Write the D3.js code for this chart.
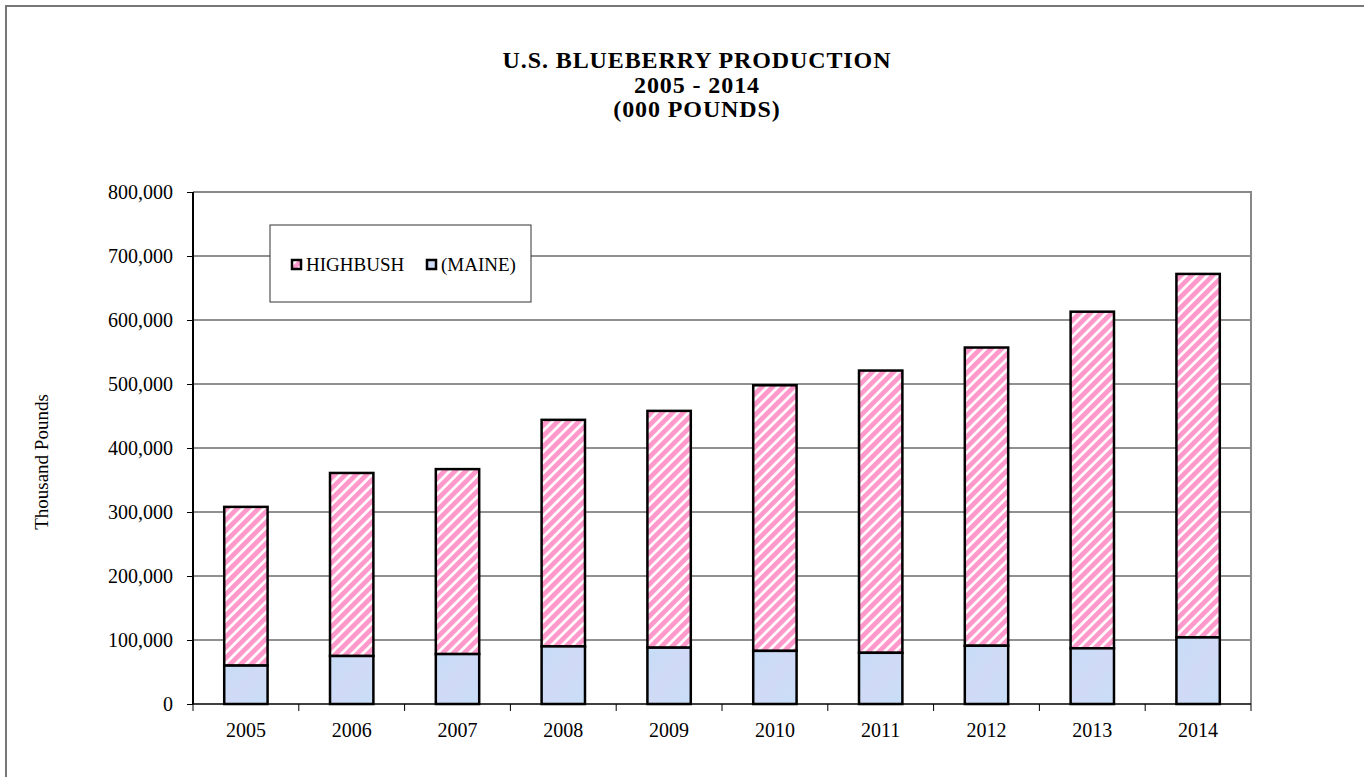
<!DOCTYPE html>
<html>
<head>
<style>
  body { margin: 0; background: #fff; }
  svg text { font-family: "Liberation Serif", "Times New Roman", serif; fill: #000; }
  .title { font-weight: bold; font-size: 24px; letter-spacing: 0.9px; text-anchor: middle; }
  .axis text { font-size: 20px; }
  .axis path, .axis line { stroke: #000; }
  .grid line { stroke: #222; stroke-width: 1; }
</style>
<script src="https://cdn.jsdelivr.net/npm/d3@7/dist/d3.min.js"></script>
</head>
<body>
<svg width="1364" height="777"></svg>
<script>
const years = ["2005", "2006", "2007", "2008", "2009", "2010", "2011", "2012", "2013", "2014"];
const maine = [60000, 75000, 78000, 90000, 88000, 83000, 80000, 91000, 87000, 104000];
const highbush = [248000, 286000, 289000, 354000, 370000, 415000, 441000, 466000, 526000, 568000];
const yTicks = [0, 100000, 200000, 300000, 400000, 500000, 600000, 700000, 800000];
const titleLines = ["U.S. BLUEBERRY PRODUCTION", "2005 - 2014", "(000 POUNDS)"];

const svg = d3.select("svg");
const pLeft = 193, pRight = 1251, pTop = 192, pBottom = 704;

// outer frame (only top and left edges visible)
svg.append("path")
  .attr("d", "M6,777 V6 H1364")
  .attr("fill", "none").attr("stroke", "#777").attr("stroke-width", 2);

const defs = svg.append("defs");
const stripes = defs.append("pattern")
  .attr("id", "stripes")
  .attr("patternUnits", "userSpaceOnUse")
  .attr("width", 7.5).attr("height", 10)
  .attr("patternTransform", "rotate(45)");
stripes.append("rect").attr("width", 7.5).attr("height", 10).attr("fill", "#fff");
stripes.append("rect").attr("width", 4.8).attr("height", 10).attr("fill", "#ff99cc");

const blue = defs.append("linearGradient")
  .attr("id", "blue").attr("x1", 0).attr("y1", 0).attr("x2", 1).attr("y2", 1);
blue.append("stop").attr("offset", "0%").attr("stop-color", "#c6ddf7");
blue.append("stop").attr("offset", "50%").attr("stop-color", "#d0daf6");
blue.append("stop").attr("offset", "100%").attr("stop-color", "#c8def7");

const x = d3.scaleBand().domain(years).range([pLeft, pRight]).paddingInner(0.59).paddingOuter(0.295);
const xb = d3.scaleBand().domain(years).range([pLeft, pRight]);
const y = d3.scaleLinear().domain([0, 800000]).range([pBottom, pTop]);

// gridlines
svg.append("g").attr("class", "grid")
  .selectAll("line").data(yTicks.slice(1, -1)).join("line")
  .attr("x1", pLeft).attr("x2", pRight)
  .attr("y1", d => y(d)).attr("y2", d => y(d));

// plot area top and right edges
svg.append("path")
  .attr("d", `M${pLeft},${pTop} H${pRight} V${pBottom}`)
  .attr("fill", "none").attr("stroke", "#888").attr("stroke-width", 2);

// legend
const lg = svg.append("g").attr("transform", "translate(270,225)");
lg.append("rect").attr("width", 261).attr("height", 77)
  .attr("fill", "#fff").attr("stroke", "#333").attr("stroke-width", 1);
const items = [{ label: "HIGHBUSH", fill: "url(#stripes)", x: 22 }, { label: "(MAINE)", fill: "url(#blue)", x: 157 }];
items.forEach(it => {
  lg.append("rect").attr("x", it.x).attr("y", 35).attr("width", 9).attr("height", 9)
    .attr("fill", it.fill).attr("stroke", "#000").attr("stroke-width", 2.5);
  lg.append("text").attr("x", it.x + 14).attr("y", 46).attr("font-size", 19).text(it.label);
});

// bars
const stack = years.map((yr, i) => ({ yr, m: maine[i], h: highbush[i] }));
const bars = svg.append("g");
bars.selectAll(".hb").data(stack).join("rect")
  .attr("x", d => x(d.yr)).attr("width", x.bandwidth())
  .attr("y", d => y(d.m + d.h)).attr("height", d => y(d.m) - y(d.m + d.h))
  .attr("fill", "url(#stripes)").attr("stroke", "#000").attr("stroke-width", 2.5);
bars.selectAll(".mn").data(stack).join("rect")
  .attr("x", d => x(d.yr)).attr("width", x.bandwidth())
  .attr("y", d => y(d.m)).attr("height", d => y(0) - y(d.m))
  .attr("fill", "url(#blue)").attr("stroke", "#000").attr("stroke-width", 2.5);

// y axis
const yAxis = svg.append("g").attr("class", "axis")
  .attr("transform", `translate(${pLeft},0)`)
  .call(d3.axisLeft(y).tickValues(yTicks).tickSize(6).tickPadding(14).tickFormat(d3.format(",")));
yAxis.select(".domain").attr("stroke-width", 2).attr("d", `M0,${pTop}V${pBottom}`);

// x axis
const xAxis = svg.append("g").attr("class", "axis")
  .attr("transform", `translate(0,${pBottom})`);
xAxis.append("line").attr("x1", pLeft).attr("x2", pRight).attr("stroke", "#000").attr("stroke-width", 1.5);
xAxis.selectAll(".tk").data(years.concat(["end"])).join("line")
  .attr("x1", (d, i) => pLeft + i * xb.bandwidth()).attr("x2", (d, i) => pLeft + i * xb.bandwidth())
  .attr("y1", 0).attr("y2", 7).attr("stroke", "#000");
xAxis.selectAll(".lb").data(years).join("text")
  .attr("x", d => xb(d) + xb.bandwidth() / 2).attr("y", 33)
  .attr("text-anchor", "middle").text(d => d);

// y title
svg.append("text")
  .attr("transform", "translate(48,462) rotate(-90)")
  .attr("text-anchor", "middle").attr("font-size", 19).text("Thousand Pounds");

// title
svg.append("text").attr("class", "title")
  .selectAll("tspan").data(titleLines).join("tspan")
  .attr("x", 697).attr("y", (d, i) => 68 + i * 24.5).text(d => d);
</script>
</body>
</html>
